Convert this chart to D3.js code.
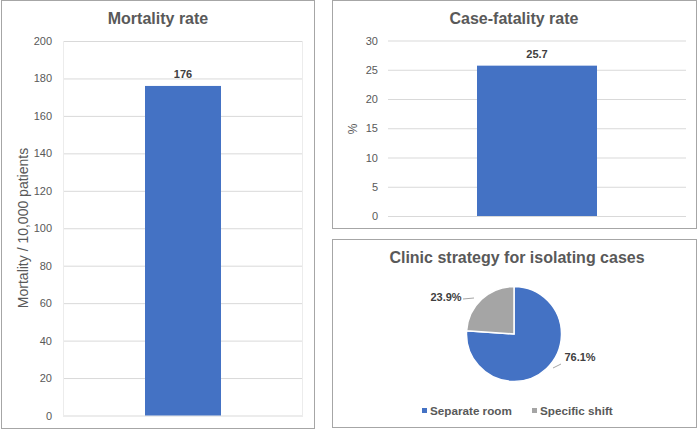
<!DOCTYPE html>
<html><head><meta charset="utf-8">
<script src="https://cdn.jsdelivr.net/npm/d3@7"></script>
<style>body{margin:0;background:#fff;}svg{display:block;font-family:Arial,"Liberation Sans",sans-serif;}</style>
</head><body>
<svg id="c" width="698" height="429"></svg>
<script>
const mortalityCategories = ["Mortality"];
const mortalityValues = [176];
const mortalityTicks = [0,20,40,60,80,100,120,140,160,180,200];
const cfrCategories = ["Case-fatality"];
const cfrValues = [25.7];
const cfrTicks = [0,5,10,15,20,25,30];
const pieLabels = ["Separate room","Specific shift"];
const pieValues = [76.1, 23.9];
const pieColors = ["#4472c4","#a5a5a5"];

const svg = d3.select("#c");
const txt = "#595959", grid = "#d9d9d9";
const lblFont = "Arial, 'Liberation Sans', sans-serif";

function panelBorder(x,y,w,h,col){
  svg.append("rect").attr("x",x+0.5).attr("y",y+0.5).attr("width",w).attr("height",h)
    .attr("fill","#fff").attr("stroke",col).attr("stroke-width",1);
}

function barPanel(o){
  panelBorder(o.bx,o.by,o.bw,o.bh,o.bcol);
  svg.append("text").attr("x",o.tx).attr("y",o.ty).attr("text-anchor","middle")
    .attr("font-size",o.tsize).attr("font-weight","bold").attr("fill",txt).text(o.title);
  const y = d3.scaleLinear().domain([0,o.max]).range([o.y0,o.y1]);
  const x = d3.scaleBand().domain(o.cats).range([o.x0,o.x1]).paddingInner(0).paddingOuter(0.5);
  const g = svg.append("g");
  const ax = d3.axisLeft(y).tickValues(o.ticks).tickSize(-(o.x1-o.x0)).tickPadding(o.tpad);
  const axg = g.append("g").attr("transform",`translate(${o.x0},0)`).call(ax);
  axg.select(".domain").remove();
  axg.selectAll(".tick line").attr("stroke",grid);
  axg.selectAll(".tick text").attr("fill",txt).attr("font-size",11).attr("font-family",lblFont);
  if(o.frame){
    g.append("line").attr("x1",o.x0+0.5).attr("x2",o.x0+0.5).attr("y1",y(o.max)).attr("y2",y(0)).attr("stroke","#ececec");
    g.append("line").attr("x1",o.x1-0.5).attr("x2",o.x1-0.5).attr("y1",y(o.max)).attr("y2",y(0)).attr("stroke","#ececec");
  }
  const bw = o.barW;
  g.selectAll("rect.bar").data(o.vals).enter().append("rect")
    .attr("x",(d,i)=>x(o.cats[i])+x.bandwidth()/2-bw/2).attr("width",bw)
    .attr("y",d=>y(d)).attr("height",d=>y(0)-y(d)).attr("fill","#4472c4");
  g.selectAll("text.lbl").data(o.vals).enter().append("text")
    .attr("x",(d,i)=>x(o.cats[i])+x.bandwidth()/2).attr("y",d=>y(d)-8)
    .attr("text-anchor","middle").attr("font-size",11).attr("font-weight","bold").attr("fill","#404040")
    .attr("font-family",lblFont).text(d=>d);
  svg.append("text").attr("transform",`translate(${o.ylx},${o.yly}) rotate(-90)`)
    .attr("text-anchor","middle").attr("font-size",o.ylsize).attr("fill",txt).text(o.ylabel);
}

barPanel({bx:1,by:0,bw:313,bh:428,bcol:"#a6a6a6",title:"Mortality rate",tx:158,ty:24,tsize:16,
  cats:mortalityCategories,vals:mortalityValues,ticks:mortalityTicks,max:200,
  y0:415.5,y1:41,x0:63,x1:303,barW:76,frame:true,tpad:11,
  ylabel:"Mortality / 10,000 patients",ylx:28,yly:228,ylsize:14});

barPanel({bx:332,by:0,bw:364,bh:228,bcol:"#a6a6a6",title:"Case-fatality rate",tx:514,ty:24,tsize:16,
  cats:cfrCategories,vals:cfrValues,ticks:cfrTicks,max:30,
  y0:216,y1:40.5,x0:388,x1:686,barW:120,frame:false,tpad:10,
  ylabel:"%",ylx:357,yly:129,ylsize:12});

// Pie panel
panelBorder(332,239,364,188,"#a6a6a6");
svg.append("text").attr("x",517).attr("y",263).attr("text-anchor","middle")
  .attr("font-size",16).attr("font-weight","bold").attr("fill",txt).text("Clinic strategy for isolating cases");
const cx=514, cy=334, r=47.5;
const pie = d3.pie().sort(null).value(d=>d)(pieValues);
const arc = d3.arc().innerRadius(0).outerRadius(r);
const pg = svg.append("g").attr("transform",`translate(${cx},${cy})`);
pg.selectAll("path").data(pie).enter().append("path").attr("d",arc)
  .attr("fill",(d,i)=>pieColors[i]).attr("stroke","#fff").attr("stroke-width",1.5);
// leader lines + labels
const labPos = [{lx:580,ly:361,anchor:"middle",line:[[553,368],[561,364]]},
                {lx:446,ly:301,anchor:"middle",line:[[463,299],[474,298]]}];
pie.forEach((d,i)=>{
  const p = labPos[i];
  svg.append("polyline").attr("points",p.line.map(q=>q.join(",")).join(" "))
    .attr("fill","none").attr("stroke","#a6a6a6").attr("stroke-width",1);
  svg.append("text").attr("x",p.lx).attr("y",p.ly).attr("text-anchor",p.anchor)
    .attr("font-size",11).attr("font-weight","bold").attr("fill","#404040")
    .attr("font-family",lblFont)
    .text(pieValues[i].toFixed(1)+"%");
});
// legend
const legX = [422, 532];
pieLabels.forEach((l,i)=>{
  svg.append("rect").attr("x",legX[i]).attr("y",408).attr("width",5).attr("height",5).attr("fill",pieColors[i]);
  svg.append("text").attr("x",legX[i]+8).attr("y",415).attr("font-size",11.7).attr("font-weight","bold")
    .attr("fill",txt).text(l);
});
</script>
</body></html>
